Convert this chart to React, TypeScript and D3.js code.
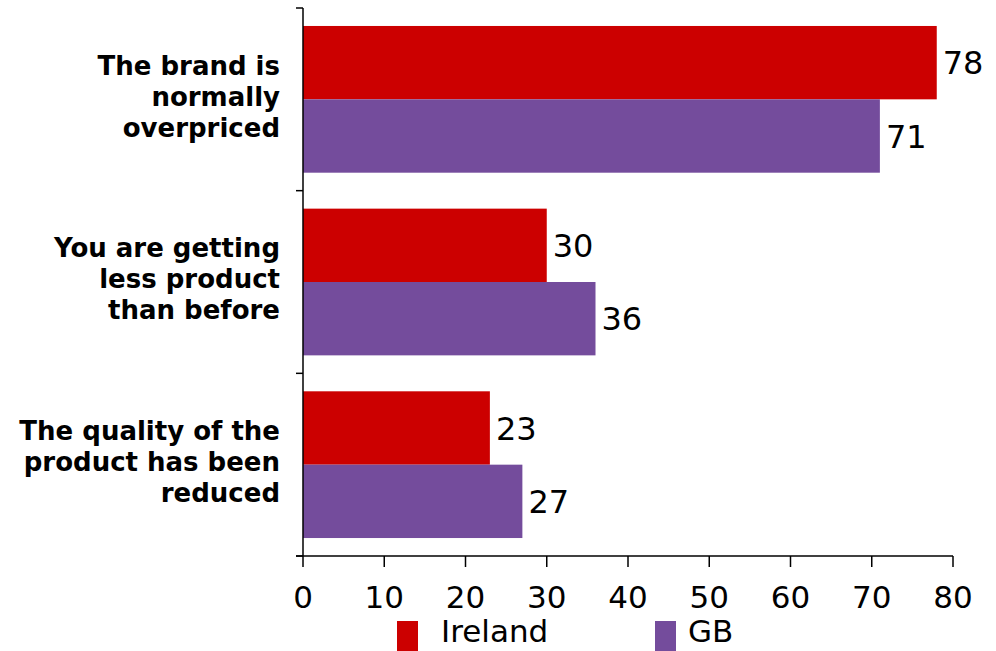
import React from "react";
import * as d3 from "d3";

const categories = [
  ["The brand is", "normally", "overpriced"],
  ["You are getting", "less product", "than before"],
  ["The quality of the", "product has been", "reduced"],
];
const categoryKeys = ["brand", "less", "quality"];
const seriesNames = ["Ireland", "GB"];
const irelandValues = [78, 30, 23];
const gbValues = [71, 36, 27];
const xTicks = [0, 10, 20, 30, 40, 50, 60, 70, 80];
const colors = ["#cc0000", "#744c9c"];

const W = 996;
const H = 651;
const left = 303;
const right = 953;
const top = 8;
const bottom = 556;
const font = "Verdana, 'DejaVu Sans', sans-serif";

export default function App() {
  const x = d3.scaleLinear().domain([0, 80]).range([left, right]);
  const y0 = d3.scaleBand().domain(categoryKeys).range([top, bottom]).paddingInner(0).paddingOuter(0);
  const inner = d3.scaleBand().domain(seriesNames).range([0, y0.bandwidth()]).paddingOuter(0.245).paddingInner(0);
  const series = [irelandValues, gbValues];

  return (
    <svg width={W} height={H} style={{ position: "absolute", left: 0, top: 0, background: "#fff" }}>
      {categoryKeys.map((k, ci) => (
        <g key={k}>
          {seriesNames.map((s, si) => {
            const v = series[si][ci];
            const yy = (y0(k) as number) + (inner(s) as number);
            return (
              <g key={s}>
                <rect x={x(0)} y={yy} width={x(v) - x(0)} height={inner.bandwidth()} fill={colors[si]} />
                <text x={x(v) + 6} y={yy + inner.bandwidth() / 2} dy="0.36em" fontSize={32} fontFamily={font} fill="#000">
                  {v}
                </text>
              </g>
            );
          })}
          <text textAnchor="end" fontFamily={font} fontWeight="bold" fontSize={26} fill="#000">
            {categories[ci].map((line, li) => (
              <tspan key={li} x={280} y={(y0(k) as number) + y0.bandwidth() / 2 - 3 + (li - 1) * 31} dy="0.36em">
                {line}
              </tspan>
            ))}
          </text>
        </g>
      ))}
      {/* y axis */}
      <line x1={left} x2={left} y1={top} y2={bottom} stroke="#000" strokeWidth={1.5} />
      {[...categoryKeys.map((k) => y0(k) as number), bottom].map((t, i) => (
        <line key={i} x1={left - 7} x2={left} y1={t} y2={t} stroke="#000" strokeWidth={1.5} />
      ))}
      {/* x axis */}
      <line x1={left - 7} x2={right} y1={bottom} y2={bottom} stroke="#000" strokeWidth={1.5} />
      {xTicks.map((t) => (
        <g key={t}>
          <line x1={x(t)} x2={x(t)} y1={bottom} y2={bottom + 11} stroke="#000" strokeWidth={1.5} />
          <text x={x(t)} y={608} textAnchor="middle" fontSize={31} fontFamily={font} fill="#000">
            {t}
          </text>
        </g>
      ))}
      {/* legend */}
      {seriesNames.map((s, i) => {
        const lx = [397, 655][i];
        return (
          <g key={s}>
            <rect x={lx} y={621} width={21} height={30} fill={colors[i]} />
            <text x={lx + 44 - i * 11} y={642} fontSize={31} fontFamily={font} fill="#000">
              {s}
            </text>
          </g>
        );
      })}
    </svg>
  );
}
